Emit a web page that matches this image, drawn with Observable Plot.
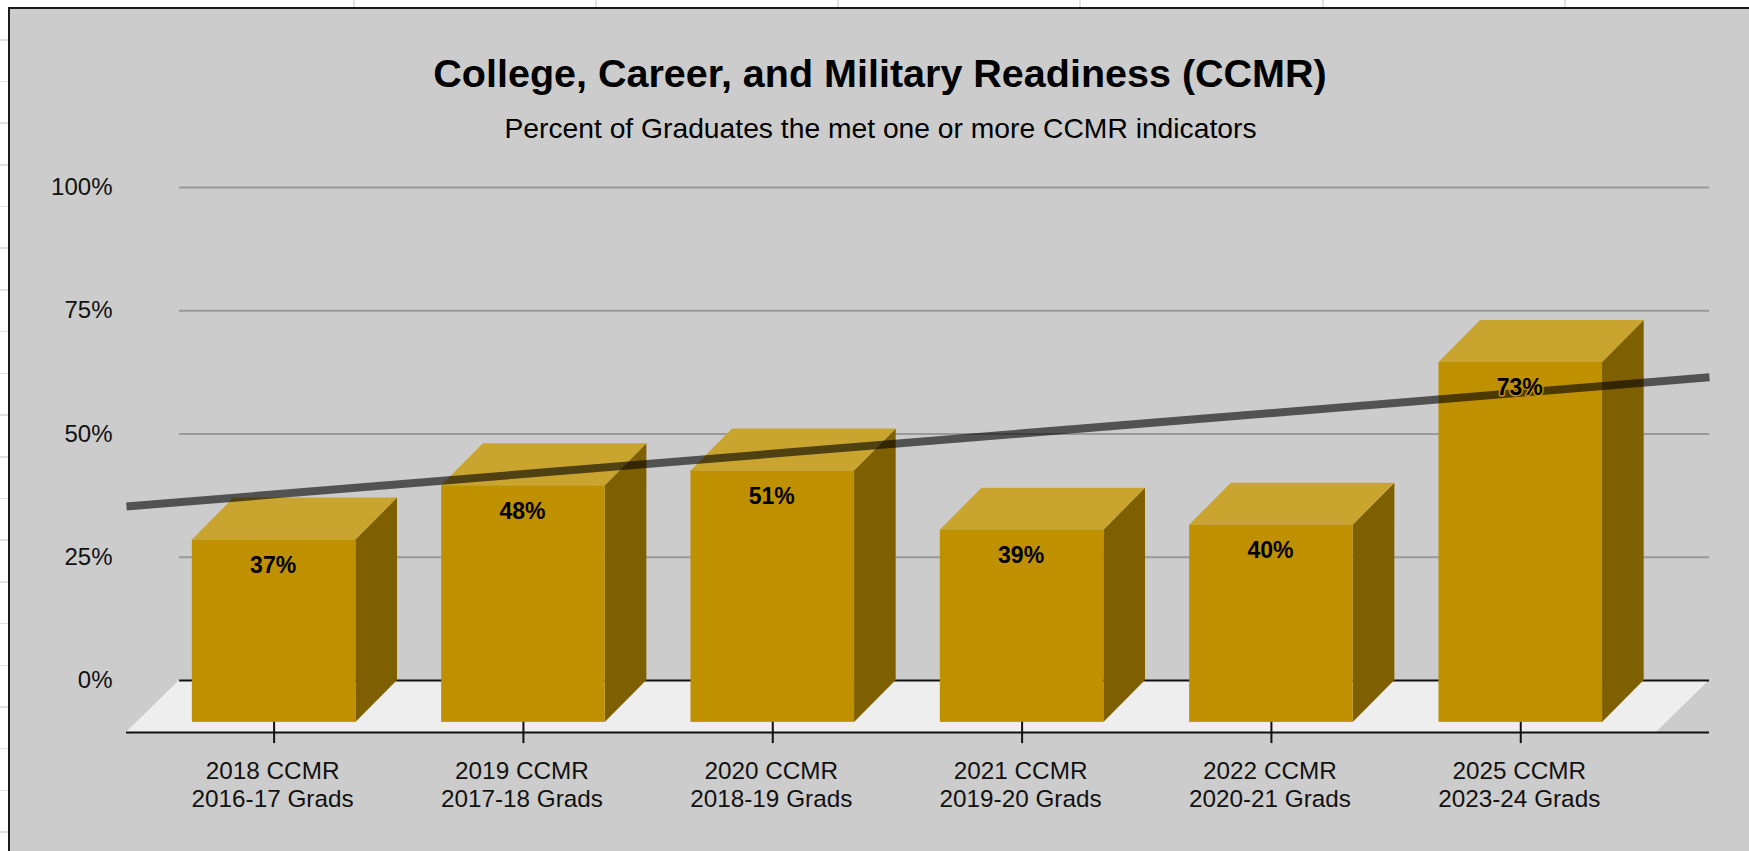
<!DOCTYPE html>
<html>
<head>
<meta charset="utf-8">
<script src="https://cdn.jsdelivr.net/npm/d3@7"></script>
<script src="https://cdn.jsdelivr.net/npm/@observablehq/plot@0.6"></script>
<style>
html,body{margin:0;padding:0;width:1749px;height:851px;overflow:hidden;background:#fff;}
#sheet{position:absolute;left:0;top:0;width:1749px;height:851px;
background-image:
 linear-gradient(#fff,#fff),
 repeating-linear-gradient(to right,#e2e2e2 -131.6px,#e2e2e2 -129.6px,transparent -129.6px,transparent 110.6px),
 repeating-linear-gradient(to bottom,#e2e2e2 -2.7px,#e2e2e2 -1.2px,transparent -1.2px,transparent 39px);
background-size:300px 7px,auto,auto;background-repeat:no-repeat;}
#panel{position:absolute;left:8px;top:7px;width:1741px;height:844px;background:#cccccc;border-left:2px solid #1a1a1a;border-top:2px solid #1a1a1a;box-sizing:border-box;}
#chart{position:absolute;left:0;top:0;}
svg{background:transparent !important;}
</style>
</head>
<body>
<div id="sheet"></div>
<div id="panel"></div>
<div id="chart"></div>
<script>
const titleText = "College, Career, and Military Readiness (CCMR)";
const subtitleText = "Percent of Graduates the met one or more CCMR indicators";
const categories = ["2018 CCMR\n2016-17 Grads","2019 CCMR\n2017-18 Grads","2020 CCMR\n2018-19 Grads","2021 CCMR\n2019-20 Grads","2022 CCMR\n2020-21 Grads","2025 CCMR\n2023-24 Grads"];
const positions = [1,2,3,4,5,6];
const values = [37,48,51,39,40,73];
const trendX = [0.408,6.757];
const trendY = [35.3,61.5];
const yTicks = [0,25,50,75,100];

// 3D extrusion, in data units
const halfW = 0.328, depthX = 0.167, depthY = 8.5;
const floorDepth = 10.55, floorX = 0.213;
const xMin = 0.408, xMax = 6.757;
const backLeft = xMin + floorX;

const bars = positions.map((p,i)=>({p, v:values[i], label:values[i]+"%"}));
const side = bars.flatMap(b=>[
  {id:b.p, x:b.p+halfW,        y1:-depthY,      y2:b.v-depthY},
  {id:b.p, x:b.p+halfW+depthX, y1:0,            y2:b.v}
]);
const top3d = bars.flatMap(b=>[
  {id:b.p, y:b.v-depthY, x1:b.p-halfW,        x2:b.p+halfW},
  {id:b.p, y:b.v,        x1:b.p-halfW+depthX, x2:b.p+halfW+depthX}
]);
const floor = [
  {y:-floorDepth, x1:xMin, x2:xMax-floorX},
  {y:0, x1:backLeft, x2:xMax}
];
const trend = trendX.map((x,i)=>({x,y:trendY[i]}));

const font = "'Liberation Sans', Arial, sans-serif";
const plot = Plot.plot({
  width:1749, height:851,
  marginLeft:126, marginRight:40, marginTop:187, marginBottom:119,
  style:{background:"transparent", fontFamily:font, fontSize:"24px", color:"#000"},
  x:{type:"linear", domain:[xMin,xMax]},
  y:{type:"linear", domain:[-floorDepth,100]},
  marks:[
    Plot.areaX(floor,{y:"y",x1:"x1",x2:"x2",fill:"#eeeeee"}),
    Plot.ruleY(yTicks.filter(d=>d>0),{x1:backLeft,x2:xMax,stroke:"#999999",strokeWidth:2}),
    Plot.ruleY([0],{x1:backLeft,x2:xMax,stroke:"#111",strokeWidth:2}),
    Plot.ruleY([-floorDepth],{x1:xMin,x2:xMax,stroke:"#111",strokeWidth:2}),
    Plot.ruleX(positions,{y1:-8.1,y2:-12.8,stroke:"#111",strokeWidth:2}),
    Plot.areaY(side,{x:"x",y1:"y1",y2:"y2",z:"id",fill:"#7f6000"}),
    Plot.areaX(top3d,{y:"y",x1:"x1",x2:"x2",z:"id",fill:"#c9a42f"}),
    Plot.rect(bars,{x1:d=>d.p-halfW,x2:d=>d.p+halfW,y1:-depthY,y2:d=>d.v-depthY,fill:"#bf9000"}),
    Plot.line(trend,{x:"x",y:"y",stroke:"#000",strokeOpacity:0.6,strokeWidth:8,strokeLinecap:"butt"}),
    Plot.text(bars,{x:"p",y:d=>d.v-depthY,text:"label",dx:-1,dy:25.5,fontWeight:"bold",fontSize:23,fill:"#000",stroke:"#bf9000",strokeWidth:3,paintOrder:"stroke"}),
    Plot.axisY({ticks:yTicks,tickFormat:d=>d+"%",tickSize:0,tickPadding:14,label:null,fontSize:24,fill:"#111"}),
    Plot.axisX({ticks:positions,tickFormat:d=>categories[d-1],tickSize:0,tickPadding:27,dx:-1.5,label:null,fontSize:24.3,lineHeight:1.14,fill:"#111"}),
    Plot.text([titleText],{frameAnchor:"top",dx:-38,dy:-128.5,text:d=>d,fontWeight:"bold",fontSize:39.5,fill:"#000"}),
    Plot.text([subtitleText],{frameAnchor:"top",dx:-37.5,dy:-70,text:d=>d,fontSize:28.25,fill:"#000"})
  ]
});
document.getElementById("chart").appendChild(plot);
</script>
</body>
</html>
